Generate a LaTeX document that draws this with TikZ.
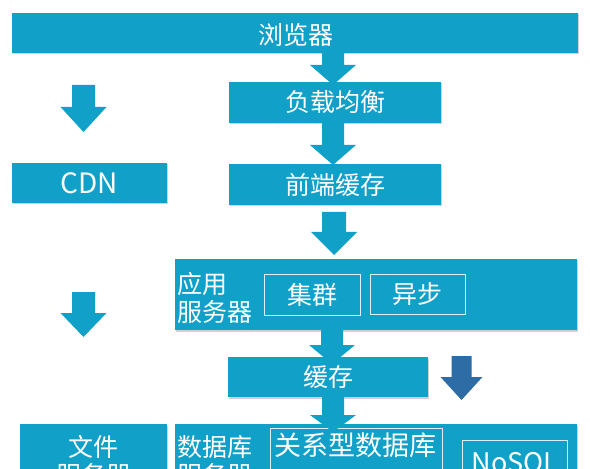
\documentclass[tikz,border=0pt]{standalone}
\usepackage{fontspec}
\setmainfont{Noto Sans CJK SC}
\usetikzlibrary{shadows}
\definecolor{mainblue}{RGB}{16,160,200}
\definecolor{darkblue}{RGB}{46,108,166}
\newcommand\barrow[7]{% colour, centre x, shaft half width, head half width, top y, head y, tip y
  \fill[#1] ({#2-#3},#5) -- ({#2+#3},#5) -- ({#2+#3},#6) -- ({#2+#4},#6) -- (#2,#7)
    -- ({#2-#4},#6) -- ({#2-#3},#6) -- cycle;}
\tikzset{
  box/.style={fill=mainblue, text=white, inner sep=0pt, outer sep=0pt,
    drop shadow={shadow xshift=1bp, shadow yshift=-1.5bp, fill=black, opacity=0.18},
    font=\fontsize{25bp}{28bp}\selectfont},
  inbox/.style={fill=mainblue, draw=white!85!mainblue, line width=1bp, text=white,
    inner sep=0pt, font=\fontsize{25bp}{28bp}\selectfont},
  lbl/.style={text=white, inner sep=0pt, align=left, font=\fontsize{25bp}{28bp}\selectfont},
  biglbl/.style={lbl, font=\fontsize{27bp}{30bp}\selectfont},
}
\begin{document}
\begin{tikzpicture}[x=1bp, y=-1bp]
\useasboundingbox (0,0) rectangle (590,469);
\clip (0,0) rectangle (590,469);
\fill[white] (0,0) rectangle (590,469);

% boxes
\node[box, minimum width=566bp, minimum height=40bp] (browser) at (295,33) {};
\node[lbl] (browsert) at (296,35) {浏览器};
\node[box, minimum width=212bp, minimum height=41bp] (lb) at (335,102.5) {负载均衡};
\node[box, minimum width=212bp, minimum height=41bp] (fe) at (335,184.5) {前端缓存};
\node[box, minimum width=155bp, minimum height=40bp,
      font=\fontsize{28bp}{30bp}\selectfont] (cdn) at (89.5,183) {CDN};
\node[box, minimum width=402bp, minimum height=71bp] (app) at (376,294.5) {};
\node[lbl, anchor=west] (appt) at (177,298) {应用\\服务器};
\node[inbox, minimum width=96bp, minimum height=40bp] (cluster) at (312,295) {集群};
\node[inbox, minimum width=95bp, minimum height=39bp] (async) at (417.5,294.5) {异步};
\node[box, minimum width=200bp, minimum height=40bp] (cache) at (328,377) {缓存};
\node[box, minimum width=147bp, minimum height=100bp, anchor=north] (file) at (93.5,424) {};
\node[lbl, align=center, anchor=north] (filet) at (93.5,435) {文件\\服务器};
\node[box, minimum width=402bp, minimum height=100bp, anchor=north] (db) at (376,424) {};
\node[lbl, anchor=north west] (dbt) at (177,435) {数据库\\服务器};
\node[inbox, minimum width=172bp, minimum height=90bp, anchor=north] (rdb) at (356,428) {};
\node[biglbl, anchor=north] (rdbt) at (355,433) {关系型数据库};
\node[inbox, minimum width=105bp, minimum height=80bp, anchor=north] (nosql) at (514.5,440) {};
\node[biglbl, anchor=base] (nosqlt) at (515,472) {NoSQL};

% block arrows
\barrow{mainblue}{333}{11}{23}{53}{65}{85}
\barrow{mainblue}{333}{11}{23}{122}{145}{165}
\barrow{mainblue}{334}{12}{23}{212}{232}{255}
\barrow{mainblue}{332}{11}{23}{330}{345}{364}
\barrow{mainblue}{333}{11}{23}{397}{415}{432}
\barrow{mainblue}{83.5}{11.5}{23}{85}{107}{132}
\barrow{mainblue}{83.5}{11.5}{23}{292}{313}{337}
\barrow{darkblue}{461.5}{10}{21}{356}{377}{400}
\end{tikzpicture}
\end{document}
